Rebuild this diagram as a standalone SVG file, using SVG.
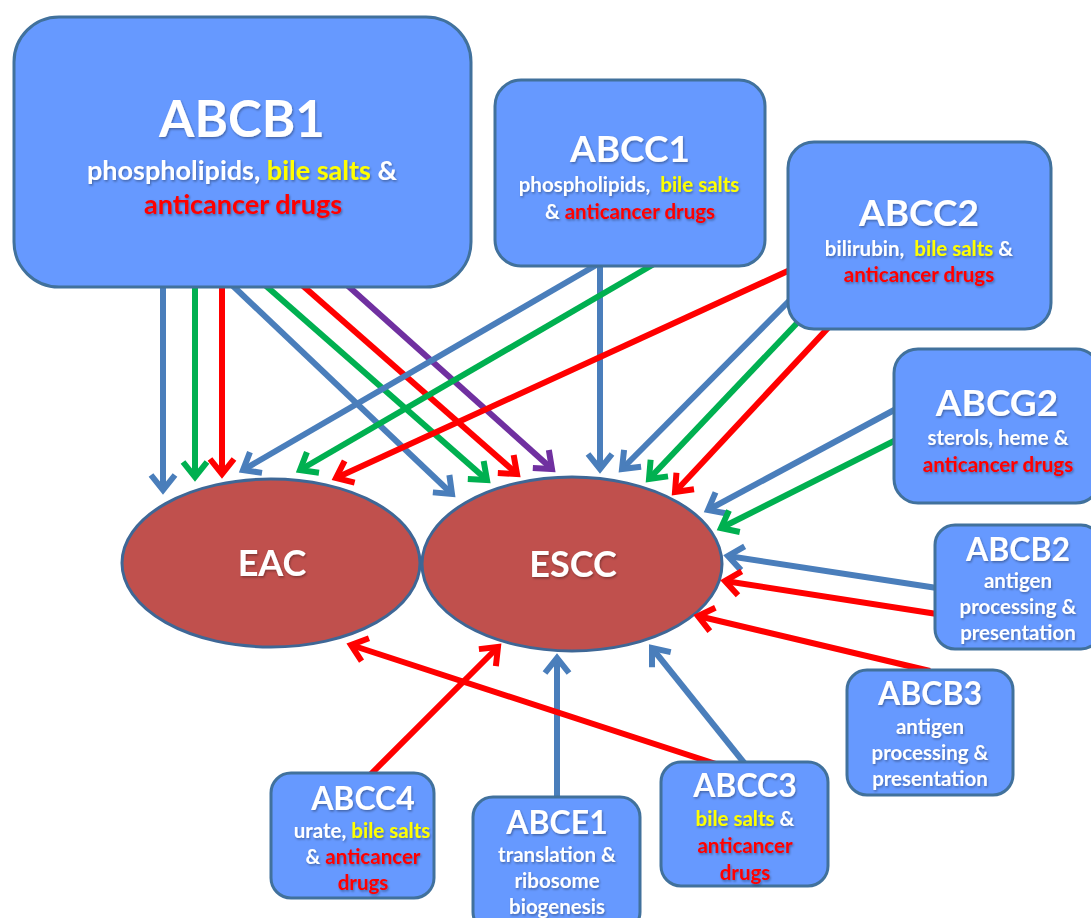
<svg xmlns="http://www.w3.org/2000/svg" width="1091" height="918" viewBox="0 0 1091 918">
<defs>
<style>
.box{fill:#6699FF;stroke:#41719C;stroke-width:3}
.ell{fill:#C0504D;stroke:#3E6796;stroke-width:3}
.t{font-family:Lato,"Open Sans",sans-serif;font-weight:bold;fill:#FFFFFF;text-anchor:middle;filter:url(#sh)}
.s{font-size:20.5px}
.y{fill:#FFFF00}
.r{fill:#FF0000}
.c{fill:none;stroke-width:6;stroke-linecap:butt}
.cb{stroke:#4A7EBB;marker-end:url(#mb)}
.cg{stroke:#00B050;marker-end:url(#mg)}
.cr{stroke:#FF0000;marker-end:url(#mr)}
.cp{stroke:#7030A0;marker-end:url(#mp)}
</style>
<filter id="sh" x="-10%" y="-30%" width="120%" height="160%">
<feDropShadow dx="1" dy="1.5" stdDeviation="0.8" flood-color="#000" flood-opacity="0.35"/>
</filter>
<marker id="mb" markerUnits="userSpaceOnUse" orient="auto" overflow="visible" markerWidth="1" markerHeight="1"><path d="M-15,-12 L0,0 L-15,12" fill="none" stroke="#4A7EBB" stroke-width="6"/></marker>
<marker id="mg" markerUnits="userSpaceOnUse" orient="auto" overflow="visible" markerWidth="1" markerHeight="1"><path d="M-15,-12 L0,0 L-15,12" fill="none" stroke="#00B050" stroke-width="6"/></marker>
<marker id="mr" markerUnits="userSpaceOnUse" orient="auto" overflow="visible" markerWidth="1" markerHeight="1"><path d="M-15,-12 L0,0 L-15,12" fill="none" stroke="#FF0000" stroke-width="6"/></marker>
<marker id="mp" markerUnits="userSpaceOnUse" orient="auto" overflow="visible" markerWidth="1" markerHeight="1"><path d="M-15,-12 L0,0 L-15,12" fill="none" stroke="#7030A0" stroke-width="6"/></marker>
</defs>
<rect width="1091" height="918" fill="#FFFFFF"/>

<g id="EAC">
<ellipse class="ell" cx="271" cy="563" rx="149" ry="84"/>
<text class="t" x="272" y="576" font-size="36">EAC</text>
</g>
<g id="ESCC">
<ellipse class="ell" cx="572" cy="564" rx="150" ry="87"/>
<text class="t" x="573" y="577" font-size="36">ESCC</text>
</g>

<g id="connectors">
<line class="c cb" x1="163" y1="285" x2="163" y2="490"/>
<line class="c cg" x1="195" y1="285" x2="195" y2="477"/>
<line class="c cr" x1="222" y1="285" x2="222" y2="474"/>
<line class="c cb" x1="232" y1="285" x2="452" y2="494"/>
<line class="c cg" x1="265" y1="285" x2="487" y2="480"/>
<line class="c cr" x1="302" y1="285" x2="517" y2="474"/>
<line class="c cp" x1="347" y1="285" x2="552" y2="469"/>
<line class="c cb" x1="598" y1="264" x2="243" y2="470"/>
<line class="c cb" x1="600" y1="264" x2="600" y2="469"/>
<line class="c cg" x1="654" y1="264" x2="300" y2="470"/>
<line class="c cr" x1="790" y1="270" x2="336" y2="478"/>
<line class="c cb" x1="790" y1="300" x2="622" y2="469"/>
<line class="c cg" x1="800" y1="320" x2="649" y2="479"/>
<line class="c cr" x1="828" y1="328" x2="675" y2="492"/>
<line class="c cb" x1="896" y1="409" x2="708" y2="510"/>
<line class="c cg" x1="896" y1="440" x2="721" y2="528"/>
<line class="c cb" x1="937" y1="588" x2="728" y2="556"/>
<line class="c cr" x1="937" y1="614" x2="725" y2="581"/>
<line class="c cr" x1="930" y1="671" x2="698" y2="616"/>
<line class="c cr" x1="370" y1="775" x2="498" y2="647"/>
<line class="c cb" x1="557" y1="799" x2="557" y2="658"/>
<line class="c cb" x1="745" y1="764" x2="652" y2="648"/>
<line class="c cr" x1="716" y1="764" x2="351" y2="645"/>
</g>

<g id="ABCB1">
<rect class="box" x="14" y="17" width="457" height="270" rx="45"/>
<text class="t" x="242" y="137" font-size="51">ABCB1</text>
<text class="t" x="242" y="180" font-size="27">phospholipids, <tspan class="y">bile salts</tspan> &amp;</text>
<text class="t r" x="243" y="214" font-size="27">anticancer drugs</text>
</g>
<g id="ABCC1">
<rect class="box" x="495" y="80" width="270" height="186" rx="26"/>
<text class="t" x="630" y="162" font-size="37">ABCC1</text>
<text class="t s" x="629" y="192" xml:space="preserve">phospholipids,  <tspan class="y">bile salts</tspan></text>
<text class="t s" x="630" y="219">&amp; <tspan class="r">anticancer drugs</tspan></text>
</g>
<g id="ABCC2">
<rect class="box" x="788" y="142" width="263" height="187" rx="26"/>
<text class="t" x="919" y="226" font-size="37">ABCC2</text>
<text class="t s" x="919" y="256" xml:space="preserve">bilirubin,  <tspan class="y">bile salts</tspan> &amp;</text>
<text class="t s r" x="919" y="282">anticancer drugs</text>
</g>
<g id="ABCG2">
<rect class="box" x="894" y="349" width="206" height="154" rx="24"/>
<text class="t" x="997" y="416" font-size="37">ABCG2</text>
<text class="t s" x="998" y="445">sterols, heme &amp;</text>
<text class="t s r" x="998" y="472">anticancer drugs</text>
</g>
<g id="ABCB2">
<rect class="box" x="935" y="525" width="166" height="124" rx="20"/>
<text class="t" x="1018" y="561" font-size="32">ABCB2</text>
<text class="t s" x="1018" y="588">antigen</text>
<text class="t s" x="1018" y="614">processing &amp;</text>
<text class="t s" x="1018" y="640">presentation</text>
</g>
<g id="ABCB3">
<rect class="box" x="847" y="670" width="166" height="125" rx="20"/>
<text class="t" x="930" y="705" font-size="32">ABCB3</text>
<text class="t s" x="930" y="734">antigen</text>
<text class="t s" x="930" y="760">processing &amp;</text>
<text class="t s" x="930" y="786">presentation</text>
</g>
<g id="ABCC4">
<rect class="box" x="271" y="773" width="163" height="125" rx="20"/>
<text class="t" x="363" y="810" font-size="32">ABCC4</text>
<text class="t s" x="362" y="838">urate, <tspan class="y">bile salts</tspan></text>
<text class="t s" x="363" y="864">&amp; <tspan class="r">anticancer</tspan></text>
<text class="t s r" x="363" y="890">drugs</text>
</g>
<g id="ABCE1">
<rect class="box" x="473" y="797" width="167" height="135" rx="20"/>
<text class="t" x="557" y="834" font-size="32">ABCE1</text>
<text class="t s" x="557" y="862">translation &amp;</text>
<text class="t s" x="557" y="888">ribosome</text>
<text class="t s" x="557" y="914">biogenesis</text>
</g>
<g id="ABCC3">
<rect class="box" x="661" y="762" width="167" height="124" rx="20"/>
<text class="t" x="745" y="797" font-size="32">ABCC3</text>
<text class="t s" x="745" y="826"><tspan class="y">bile salts</tspan> &amp;</text>
<text class="t s r" x="745" y="853">anticancer</text>
<text class="t s r" x="745" y="880">drugs</text>
</g>
</svg>
